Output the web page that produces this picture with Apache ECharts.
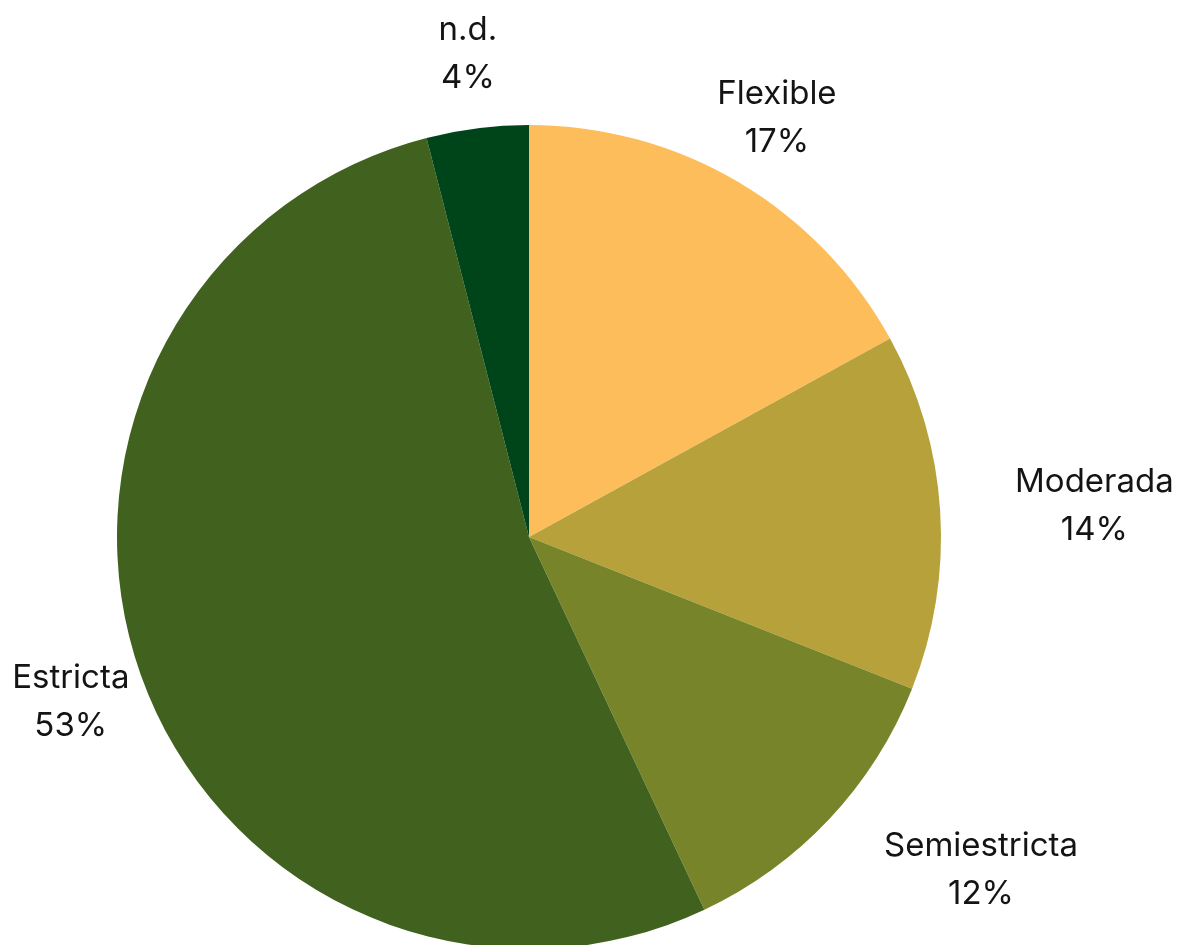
<!DOCTYPE html>
<html lang="es">
<head>
    <meta charset="utf-8">
    <title>pie</title>
    <script src="https://cdn.jsdelivr.net/npm/echarts@6/dist/echarts.min.js"></script>
    <style>
        html, body { margin: 0; padding: 0; background: #fff; }
    </style>
</head>
<body>
    <div id="main" style="width: 1180px;height:945px;"></div>
    <script>
    var names = ['Flexible', 'Moderada', 'Semiestricta', 'Estricta', 'n.d.'];
    var values = [17, 14, 12, 53, 4];
    var colors = ['#FDBD5B', '#B6A13B', '#788429', '#40621E', '#00441A'];

    var cx = 529, cy = 537, radius = 412, labelDist = 487;
    // these two start at the anchor point, the rest are centred on it
    var pushOut = {'Moderada': true, 'Semiestricta': true};

    var total = values.reduce(function (a, b) { return a + b; }, 0);
    function midAngle(i) {
        var before = 0;
        for (var k = 0; k < i; k++) before += values[k];
        return (before + values[i] / 2) / total * Math.PI * 2;
    }

    var myChart = echarts.init(document.getElementById('main'));
    var option = {
        animation: false,
        series: [
            {
                type: 'pie',
                center: [cx, cy],
                radius: radius,
                startAngle: 90,
                clockwise: true,
                data: names.map(function (n, i) {
                    return { name: n, value: values[i], itemStyle: { color: colors[i] } };
                }),
                itemStyle: { borderWidth: 0 },
                label: {
                    show: true,
                    position: 'outside',
                    overflow: 'none',
                    formatter: function (p) { return p.name + '\n' + p.value + '%'; },
                    fontFamily: 'Inter',
                    fontSize: 33,
                    lineHeight: 48,
                    align: 'center',
                    color: '#141414'
                },
                labelLine: { show: false },
                labelLayout: function (params) {
                    var i = params.dataIndex;
                    var a = midAngle(i);
                    var x = cx + labelDist * Math.sin(a);
                    var y = cy - labelDist * Math.cos(a);
                    if (pushOut[names[i]]) x += params.labelRect.width / 2;
                    return {
                        x: x,
                        y: y,
                        align: 'center',
                        verticalAlign: 'middle'
                    };
                }
            }
        ]
    };
    myChart.setOption(option);
    </script>
</body>
</html>
